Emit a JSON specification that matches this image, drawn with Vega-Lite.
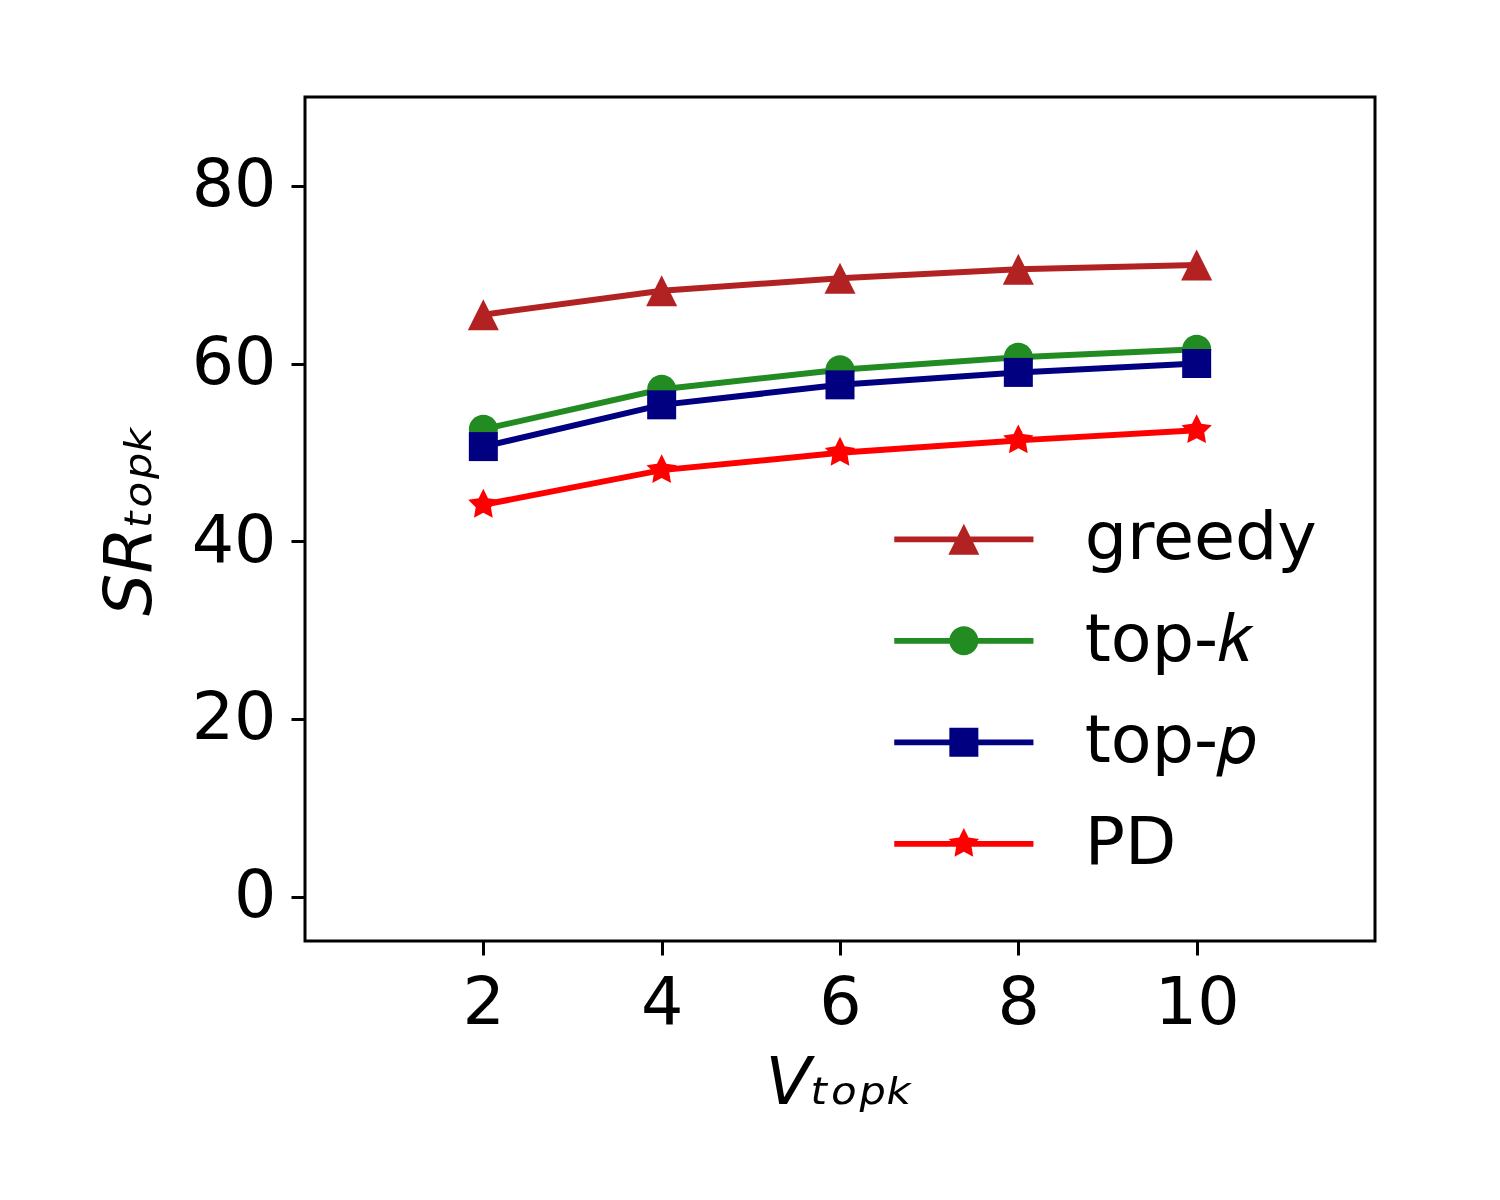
{
  "$schema": "https://vega.github.io/schema/vega-lite/v6.json",
  "autosize": {"type": "none"},
  "width": 1070,
  "height": 844,
  "padding": {"left": 305, "top": 97, "right": 125, "bottom": 259},
  "background": "#FFFFFF",
  "data": {
    "values": [
      {"method": "greedy", "v": 2, "sr": 65.5},
      {"method": "greedy", "v": 4, "sr": 68.2},
      {"method": "greedy", "v": 6, "sr": 69.6},
      {"method": "greedy", "v": 8, "sr": 70.6},
      {"method": "greedy", "v": 10, "sr": 71.1},
      {"method": "top-k", "v": 2, "sr": 52.6},
      {"method": "top-k", "v": 4, "sr": 57.1},
      {"method": "top-k", "v": 6, "sr": 59.3},
      {"method": "top-k", "v": 8, "sr": 60.7},
      {"method": "top-k", "v": 10, "sr": 61.6},
      {"method": "top-p", "v": 2, "sr": 50.65},
      {"method": "top-p", "v": 4, "sr": 55.35},
      {"method": "top-p", "v": 6, "sr": 57.6},
      {"method": "top-p", "v": 8, "sr": 59.0},
      {"method": "top-p", "v": 10, "sr": 60.0},
      {"method": "PD", "v": 2, "sr": 44.1},
      {"method": "PD", "v": 4, "sr": 48.0},
      {"method": "PD", "v": 6, "sr": 49.95},
      {"method": "PD", "v": 8, "sr": 51.35},
      {"method": "PD", "v": 10, "sr": 52.5}
    ]
  },
  "encoding": {
    "x": {
      "field": "v",
      "type": "quantitative",
      "title": "V\u209c\u2092\u209a\u2096",
      "scale": {"domain": [0, 12], "nice": false, "zero": false},
      "axis": {"values": [2, 4, 6, 8, 10], "titlePadding": 14}
    },
    "y": {
      "field": "sr",
      "type": "quantitative",
      "title": "SR\u209c\u2092\u209a\u2096",
      "scale": {"domain": [-5, 90], "nice": false, "zero": false},
      "axis": {"values": [0, 20, 40, 60, 80], "titlePadding": 27}
    },
    "color": {
      "field": "method",
      "type": "nominal",
      "scale": {
        "domain": ["greedy", "top-k", "top-p", "PD"],
        "range": ["#b22222", "#228b22", "#000080", "#ff0000"]
      },
      "legend": {
        "orient": "none",
        "legendX": 625.5,
        "legendY": 409,
        "title": null,
        "symbolSize": 841,
        "symbolStrokeWidth": 0,
        "labelOffset": 87.5,
        "rowPadding": 33.5,
        "labelFont": "DejaVu Sans",
        "labelFontSize": 66.7,
        "labelColor": "black",
        "labelLimit": 500,
        "labelExpr": "datum.label === 'top-k' ? 'top-\ud835\udc58' : datum.label === 'top-p' ? 'top-\ud835\udc5d' : datum.label",
        "encode": {
          "symbols": {
            "update": {
              "shape": {"signal": "datum.value === 'greedy' ? 'M-4.8,-0.2H4.8V0.2H-4.8Z M0,-1.07L1.07,1.07L-1.07,1.07Z' : datum.value === 'top-k' ? 'M-4.8,-0.2H4.8V0.2H-4.8Z M1,0A1,1,0,1,1,-1,0A1,1,0,1,1,1,0Z' : datum.value === 'top-p' ? 'M-4.8,-0.2H4.8V0.2H-4.8Z M-1,-1H1V1H-1Z' : 'M-4.8,-0.2H4.8V0.2H-4.8Z M0,-1.1L0.3233,-0.445L1.0462,-0.3399L0.5231,0.17L0.6466,0.8899L0,0.55L-0.6466,0.8899L-0.5231,0.17L-1.0462,-0.3399L-0.3233,-0.445Z'"},
              "fill": {"scale": "color", "field": "value"},
              "fillOpacity": {"value": 1},
              "opacity": {"value": 1}
            }
          }
        }
      }
    }
  },
  "layer": [
    {
      "mark": {"type": "line", "strokeWidth": 6, "clip": true}
    },
    {
      "transform": [{"filter": "datum.method === 'greedy'"}],
      "mark": {"type": "point", "filled": true, "opacity": 1, "size": 841, "strokeWidth": 0, "shape": "M0,-1.07L1.07,1.07L-1.07,1.07Z"}
    },
    {
      "transform": [{"filter": "datum.method === 'top-k'"}],
      "mark": {"type": "point", "filled": true, "opacity": 1, "size": 841, "strokeWidth": 0, "shape": "M1,0A1,1,0,1,1,-1,0A1,1,0,1,1,1,0Z"}
    },
    {
      "transform": [{"filter": "datum.method === 'top-p'"}],
      "mark": {"type": "point", "filled": true, "opacity": 1, "size": 841, "strokeWidth": 0, "shape": "M-1,-1H1V1H-1Z"}
    },
    {
      "transform": [{"filter": "datum.method === 'PD'"}],
      "mark": {"type": "point", "filled": true, "opacity": 1, "size": 841, "strokeWidth": 0, "shape": "M0,-1.1L0.3233,-0.445L1.0462,-0.3399L0.5231,0.17L0.6466,0.8899L0,0.55L-0.6466,0.8899L-0.5231,0.17L-1.0462,-0.3399L-0.3233,-0.445Z"}
    }
  ],
  "config": {
    "font": "DejaVu Sans",
    "view": {"stroke": "black", "strokeWidth": 3},
    "axis": {
      "grid": false,
      "domain": false,
      "ticks": true,
      "tickSize": 14,
      "tickWidth": 3,
      "tickColor": "black",
      "labelFont": "DejaVu Sans",
      "labelFontSize": 66.7,
      "labelColor": "black",
      "labelPadding": 15,
      "titleFont": "DejaVu Sans",
      "titleFontSize": 66.7,
      "titleFontWeight": "normal",
      "titleFontStyle": "italic",
      "titleColor": "black"
    }
  }
}
